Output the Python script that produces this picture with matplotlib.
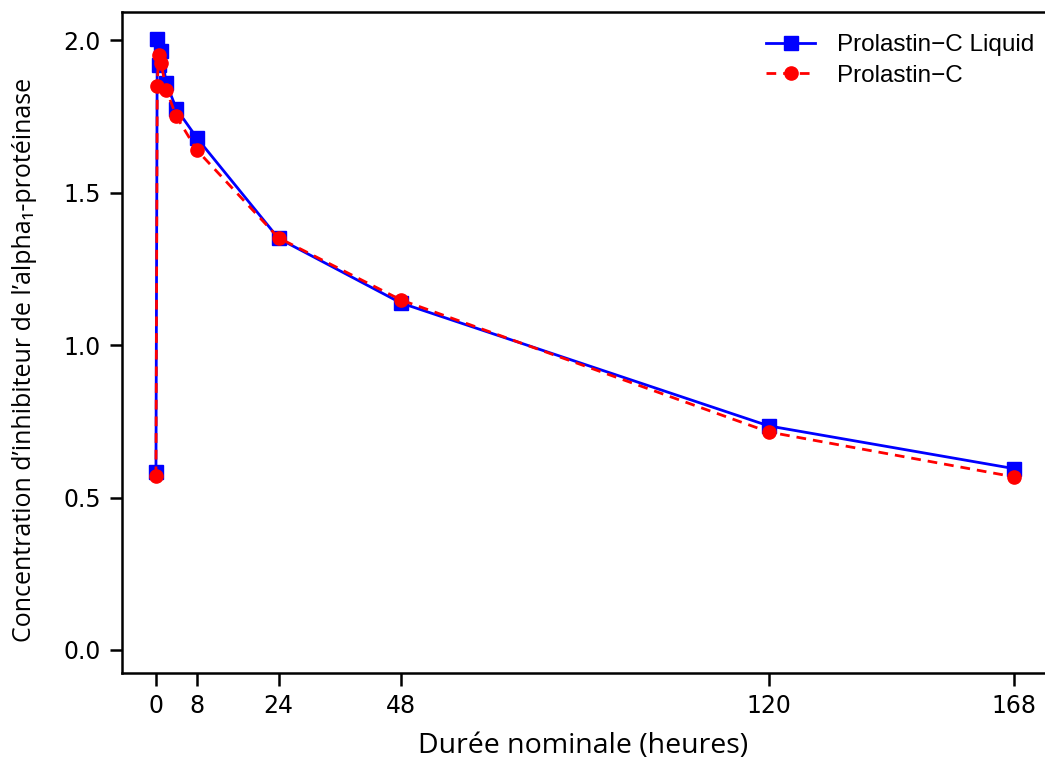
import matplotlib
matplotlib.use("Agg")
import matplotlib.pyplot as plt

# nominal times (hours) and concentrations
hours = [0, 0.25, 0.5, 1, 2, 4, 8, 24, 48, 120, 168]
liquid = [0.585, 2.005, 1.92, 1.965, 1.86, 1.775, 1.68, 1.35, 1.138, 0.735, 0.595]
prolastin = [0.57, 1.85, 1.95, 1.925, 1.838, 1.75, 1.64, 1.352, 1.148, 0.715, 0.568]
xticks = [0, 8, 24, 48, 120, 168]
yticks = [0.0, 0.5, 1.0, 1.5, 2.0]

fig = plt.figure(figsize=(10.45, 7.63), dpi=100)
ax = fig.add_axes([0.1167, 0.118, 0.8833, 0.866])

ax.plot(hours, liquid, color="#0000ff", lw=2.0, marker="s", ms=9.5,
        label="Prolastin\u2212C Liquid")
ax.plot(hours, prolastin, color="#ff0000", lw=2.0, ls=(0, (3.5, 2.5)), marker="o", ms=9.5,
        label="Prolastin\u2212C")

ax.set_xlim(-6.66, 174.1)
ax.set_ylim(-0.0754, 2.092)
ax.set_xticks(xticks)
ax.set_yticks(yticks)
ax.set_yticklabels([f"{v:.1f}" for v in yticks])
ax.spines["right"].set_visible(False)
for s in ["left", "top", "bottom"]:
    ax.spines[s].set_linewidth(1.8)
ax.tick_params(length=9, width=1.8, labelsize=17, pad=6)
for lab in ax.get_xticklabels() + ax.get_yticklabels():
    lab.set_family(["Liberation Sans Narrow", "DejaVu Sans"])

ax.set_xlabel("Durée nominale (heures)", fontsize=20.5, family=["Open Sans", "DejaVu Sans"],
              labelpad=10)
ax.set_ylabel("Concentration d\u2019inhibiteur de l\u2019alpha\u2081-protéinase", fontsize=18,
              family=["Open Sans", "DejaVu Sans"], labelpad=19)
ax.yaxis.label.set_y(0.474)

ax.legend(loc="upper right", frameon=False, handlelength=2.0, handletextpad=0.9,
          labelspacing=0.35, borderaxespad=0.5,
          prop={"family": "Liberation Sans", "size": 17.5}, bbox_to_anchor=(1.012, 1.0))

fig.savefig("out.png", dpi=100)
